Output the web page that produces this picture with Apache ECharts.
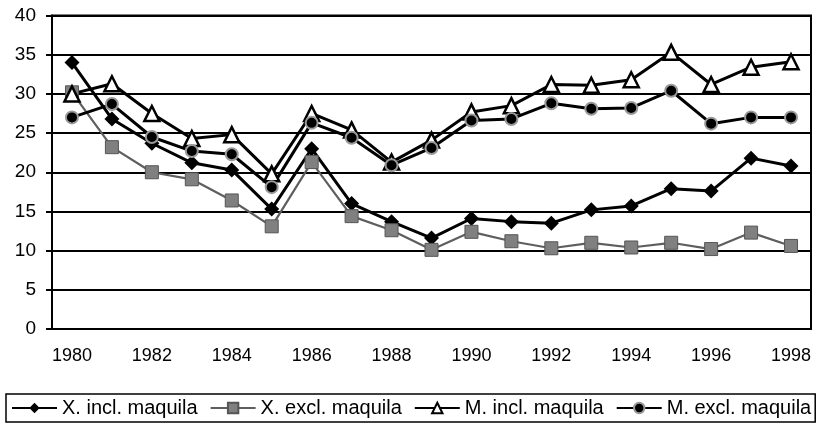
<!DOCTYPE html>
<html>
<head>
<meta charset="utf-8">
<script src="https://cdn.jsdelivr.net/npm/echarts@6/dist/echarts.min.js"></script>
<style>
  html, body { margin: 0; padding: 0; background: #fff; }
  #chart { width: 818px; height: 426px; }
</style>
</head>
<body>
<div id="chart"></div>
<script>
// years on the x axis
var years = ['1980', '1981', '1982', '1983', '1984', '1985', '1986', '1987', '1988', '1989',
             '1990', '1991', '1992', '1993', '1994', '1995', '1996', '1997', '1998'];

// values
var xInclMaquila = [34.0, 26.8, 23.7, 21.2, 20.3, 15.3, 23.0, 16.0, 13.7, 11.6,
                    14.1, 13.7, 13.5, 15.2, 15.7, 17.9, 17.6, 21.8, 20.8];
var xExclMaquila = [30.2, 23.2, 20.0, 19.1, 16.4, 13.1, 21.3, 14.4, 12.6, 10.1,
                    12.4, 11.2, 10.3, 11.0, 10.4, 11.0, 10.2, 12.3, 10.6];
var mInclMaquila = [30.0, 31.3, 27.5, 24.3, 24.8, 19.8, 27.5, 25.4, 21.3, 24.1,
                    27.7, 28.5, 31.2, 31.1, 31.8, 35.3, 31.2, 33.4, 34.1];
var mExclMaquila = [27.0, 28.7, 24.5, 22.7, 22.3, 18.1, 26.3, 24.4, 20.9, 23.1,
                    26.6, 26.8, 28.8, 28.1, 28.2, 30.4, 26.2, 27.0, 27.0];

var seriesNames = ['X. incl. maquila', 'X. excl. maquila', 'M. incl. maquila', 'M. excl. maquila'];
var yTicks = { min: 0, max: 40, interval: 5 };

var font = 'Liberation Sans, Arial, sans-serif';
var myEcharts = echarts.init(document.getElementById('chart'));

var option = {
    backgroundColor: '#fff',
    animation: false,
    grid: {
        left: 52, right: 7, top: 15.5, bottom: 97,
        show: true,
        borderColor: '#000',
        borderWidth: 2
    },
    legend: {
        data: seriesNames,
        left: 6, top: 394,
        width: 809,
        padding: [4, 4, 4, 5],
        borderColor: '#000',
        borderWidth: 1.5,
        itemWidth: 45,
        itemHeight: 13,
        itemGap: 12,
        textStyle: { fontFamily: font, fontSize: 20, color: '#000' }
    },
    xAxis: {
        type: 'category',
        data: years,
        boundaryGap: true,
        axisLine: { lineStyle: { color: '#000', width: 2 } },
        axisTick: { interval: 0, length: 6, lineStyle: { color: '#000', width: 2 } },
        axisLabel: { interval: 1, margin: 18, color: '#000', fontFamily: font, fontSize: 18 },
        splitLine: { show: false }
    },
    yAxis: {
        type: 'value',
        min: yTicks.min, max: yTicks.max, interval: yTicks.interval,
        axisLine: { show: true, lineStyle: { color: '#000', width: 2 } },
        axisTick: { show: true, length: 6, lineStyle: { color: '#000', width: 2 } },
        axisLabel: { margin: 16, color: '#000', fontFamily: font, fontSize: 19 },
        splitLine: { lineStyle: { color: '#000', width: 1.8 } }
    },
    series: [
        {
            name: seriesNames[0], type: 'line', data: xInclMaquila,
            symbol: 'diamond', symbolSize: 15,
            lineStyle: { color: '#000', width: 3 },
            itemStyle: { color: '#000' }
        },
        {
            name: seriesNames[1], type: 'line', data: xExclMaquila,
            symbol: 'rect', symbolSize: 13,
            lineStyle: { color: '#5e5e5e', width: 2.2 },
            itemStyle: { color: '#808080', borderColor: '#555', borderWidth: 1 }
        },
        {
            name: seriesNames[2], type: 'line', data: mInclMaquila,
            symbol: 'triangle', symbolSize: 15,
            lineStyle: { color: '#000', width: 3 },
            itemStyle: { color: '#fff', borderColor: '#000', borderWidth: 2.5 }
        },
        {
            name: seriesNames[3], type: 'line', data: mExclMaquila,
            symbol: 'circle', symbolSize: 12,
            lineStyle: { color: '#000', width: 3 },
            itemStyle: { color: '#000', borderColor: '#999', borderWidth: 2 }
        }
    ]
};
myEcharts.setOption(option);
</script>
</body>
</html>
